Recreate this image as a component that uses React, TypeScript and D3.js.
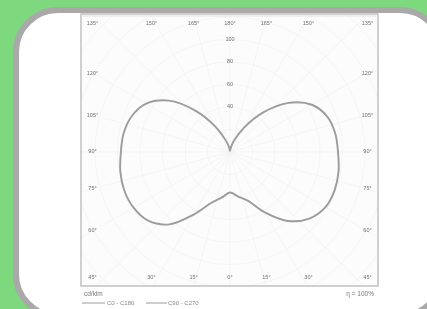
import * as d3 from "d3";

// polar intensity curve, gamma measured from nadir (downward), cd/klm
const gammaDeg = [0, 10, 20, 30, 40, 50, 60, 70, 80, 90, 100, 110, 120, 130, 140, 150, 160, 170, 180];
const c0Values = [36, 40, 46, 62, 80, 92, 98, 99, 98, 96, 95, 92, 84, 68, 46, 25, 11, 4, 1];
const c180Values = [37, 41, 48, 64, 84, 95, 99, 100, 99, 97, 96, 93, 86, 71, 48, 26, 11, 4, 1];

const ringValues = [20, 40, 60, 80, 100, 120];
const ringLabels = [40, 60, 80, 100];
const angleTicks = [0, 15, 30, 45, 60, 75, 90, 105, 120, 135, 150, 165, 180];

const unitLabel = "cd/klm";
const etaLabel = "η = 100%";
const legendNames = ["C0 - C180", "C90 - C270"];

const W = 427;
const H = 309;
const frame = { x: 81, y: 14, w: 297, h: 272 };
const cx = 230;
const cy = 152;

export default function App() {
  const r = d3.scaleLinear().domain([0, 120]).range([0, 135]);

  // right half goes from nadir up to zenith, left half back down
  const pts: [number, number][] = [];
  gammaDeg.forEach((g, i) => {
    pts.push([Math.PI - (g * Math.PI) / 180, r(c0Values[i])]);
  });
  for (let i = gammaDeg.length - 2; i >= 1; i--) {
    pts.push([((gammaDeg[i] - 180) * Math.PI) / 180, r(c180Values[i])]);
  }
  const curve = d3
    .lineRadial<[number, number]>()
    .angle((d) => d[0])
    .radius((d) => d[1])
    .curve(d3.curveCatmullRomClosed.alpha(0.5))(pts);

  // radial grid lines every 15 degrees
  const spokes = d3.range(0, 360, 15).map((a) => {
    const t = (a * Math.PI) / 180;
    return { x2: cx + 220 * Math.sin(t), y2: cy + 220 * Math.cos(t) };
  });

  // angle labels around the square
  const labels: { x: number; y: number; text: string }[] = [];
  angleTicks.forEach((g) => {
    const sides = g === 0 || g === 180 ? [1] : [1, -1];
    sides.forEach((s) => {
      const t = (g * Math.PI) / 180;
      const sx = Math.sin(t);
      const cs = Math.cos(t);
      let x: number;
      let y: number;
      if (Math.abs(cs) >= Math.abs(sx) - 1e-9) {
        x = cx + s * 136 * Math.abs(sx / cs);
        y = cs > 0 ? cy + 126 : cy - 128;
      } else {
        x = cx + s * 137.5;
        y = cy + 136 * (cs / Math.abs(sx));
      }
      if (Math.abs(Math.abs(cs) - Math.abs(sx)) < 1e-6) x = cx + s * 137.5;
      labels.push({ x, y, text: `${g}°` });
    });
  });

  const font = "'Liberation Sans', Arial, sans-serif";

  return (
    <svg width={W} height={H} style={{ position: "absolute", left: 0, top: 0 }}>
      <defs>
        <filter id="soft" x="-5%" y="-5%" width="110%" height="110%">
          <feGaussianBlur stdDeviation="0.6" />
        </filter>
        <clipPath id="frameClip">
          <rect x={frame.x} y={frame.y} width={frame.w} height={frame.h} />
        </clipPath>
      </defs>
      <rect x={0} y={0} width={W} height={H} fill="#7ed87e" />
      <rect x={16} y={10} width={426} height={306} rx={42} fill="#fff" stroke="#a9a9a9" strokeWidth={6} />

      <g filter="url(#soft)">
        <rect x={frame.x} y={frame.y} width={frame.w} height={frame.h} fill="#fcfcfc" />
        <g clipPath="url(#frameClip)" stroke="#f0f0f0" strokeWidth={0.6} fill="none">
          {spokes.map((s, i) => (
            <line key={i} x1={cx} y1={cy} x2={s.x2} y2={s.y2} />
          ))}
          {ringValues.map((v) => (
            <circle key={v} cx={cx} cy={cy} r={r(v)} />
          ))}
          {[140, 160, 180].map((v) => (
            <circle key={v} cx={cx} cy={cy} r={r(v)} />
          ))}
        </g>
        <rect x={frame.x} y={frame.y} width={frame.w} height={frame.h} fill="none" stroke="#bdbdbd" strokeWidth={1.4} />
        <line x1={frame.x} x2={frame.x + frame.w} y1={frame.y + 2} y2={frame.y + 2} stroke="#e2e2e2" strokeWidth={1} />

        <path d={curve ?? ""} transform={`translate(${cx},${cy})`} fill="none" stroke="#9c9c9c" strokeWidth={1.9} />

        {ringLabels.map((v) => (
          <text key={v} x={cx} y={cy - r(v)} fontSize={5.5} fill="#707070" textAnchor="middle" dominantBaseline="middle" fontFamily={font}>
            {v}
          </text>
        ))}
        {labels.map((l, i) => (
          <text key={i} x={l.x} y={l.y} fontSize={5.5} fill="#707070" textAnchor="middle" dominantBaseline="middle" fontFamily={font}>
            {l.text}
          </text>
        ))}

        <text x={84} y={296} fontSize={6.5} fill="#777" fontFamily={font}>
          {unitLabel}
        </text>
        <text x={374} y={296} fontSize={6.5} fill="#777" textAnchor="end" fontFamily={font}>
          {etaLabel}
        </text>
        <line x1={82} x2={105} y1={303} y2={303} stroke="#9c9c9c" strokeWidth={1} />
        <text x={107} y={305} fontSize={6} fill="#888" fontFamily={font}>
          {legendNames[0]}
        </text>
        <line x1={146} x2={167} y1={303} y2={303} stroke="#9c9c9c" strokeWidth={1} />
        <text x={168} y={305} fontSize={6} fill="#888" fontFamily={font}>
          {legendNames[1]}
        </text>
      </g>
    </svg>
  );
}
